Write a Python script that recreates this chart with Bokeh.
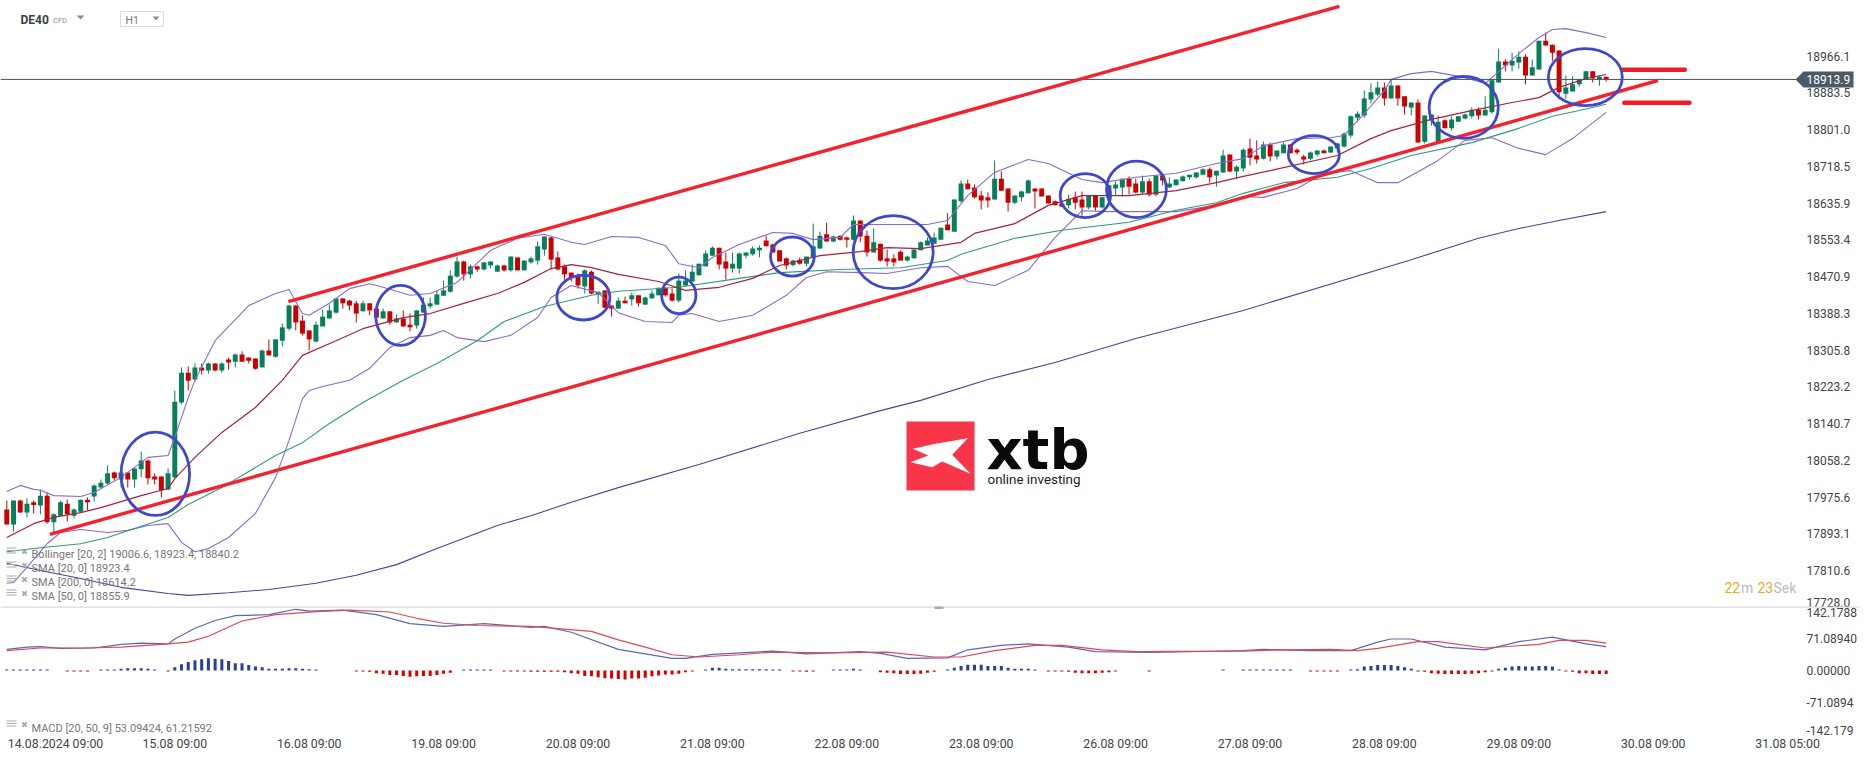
from bokeh.plotting import figure
from bokeh.models import Range1d, FixedTicker, Label, PolyAnnotation, ColumnDataSource
from bokeh.embed import file_html
from bokeh.resources import INLINE

# ---------- candles ----------
body_top = [
 17948,17968,17968,17961,17964,17979,17979,17937,17964,17961,
 17948,17970,17970,18002,18008,18029,18031,18031,18031,18040,
 18058,18058,18022,18022,18029,18190,18255,18255,18267,18267,
 18276,18276,18276,18285,18296,18296,18289,18287,18305,18305,
 18330,18357,18406,18406,18372,18350,18363,18381,18395,18422,
 18422,18417,18411,18411,18411,18399,18393,18393,18377,18377,
 18363,18395,18408,18411,18431,18440,18473,18505,18505,18494,
 18494,18503,18505,18496,18496,18516,18514,18507,18512,18539,
 18561,18559,18514,18494,18480,18473,18485,18482,18437,18440,
 18406,18417,18417,18429,18429,18424,18433,18446,18446,18433,
 18462,18462,18482,18500,18523,18536,18536,18505,18500,18523,
 18525,18534,18536,18552,18543,18530,18512,18507,18509,18516,
 18539,18563,18566,18561,18563,18559,18597,18597,18563,18548,
 18545,18512,18512,18527,18516,18532,18548,18552,18559,18581,
 18588,18644,18680,18680,18671,18653,18649,18691,18691,18669,
 18653,18662,18687,18669,18669,18653,18640,18635,18646,18649,
 18644,18653,18653,18649,18676,18678,18691,18691,18680,18685,
 18685,18698,18698,18680,18689,18696,18700,18705,18712,18712,
 18709,18743,18745,18718,18756,18759,18743,18768,18768,18754,
 18768,18768,18756,18741,18750,18754,18754,18763,18770,18792,
 18831,18837,18871,18885,18896,18896,18900,18900,18876,18862,
 18862,18833,18835,18819,18822,18824,18831,18835,18846,18846,
 18846,18912,18954,18954,18956,18965,18965,18941,19001,19001,
 18992,18979,18896,18903,18914,18932,18932,18920,18920]
body_bottom = [
 17914,17914,17941,17941,17958,17957,17919,17919,17934,17937,
 17934,17943,17964,17977,17997,18006,18018,18015,18015,18015,
 18038,18018,18015,17991,17993,18020,18188,18237,18240,18260,
 18260,18260,18260,18278,18280,18280,18282,18264,18267,18294,
 18291,18327,18354,18368,18343,18330,18325,18359,18377,18390,
 18411,18406,18388,18393,18395,18379,18377,18368,18368,18359,
 18357,18361,18390,18404,18408,18428,18437,18471,18476,18476,
 18487,18487,18496,18482,18485,18485,18485,18485,18503,18507,
 18532,18509,18487,18476,18469,18451,18449,18433,18431,18401,
 18399,18399,18411,18420,18411,18408,18422,18429,18429,18417,
 18417,18451,18460,18474,18494,18518,18498,18489,18489,18489,
 18518,18521,18530,18539,18525,18505,18496,18497,18500,18500,
 18514,18534,18550,18550,18554,18554,18554,18561,18525,18525,
 18507,18505,18503,18507,18507,18512,18530,18541,18545,18554,
 18575,18572,18640,18667,18649,18642,18642,18644,18664,18637,
 18637,18649,18658,18662,18651,18635,18631,18628,18631,18637,
 18626,18626,18626,18626,18649,18669,18671,18673,18660,18660,
 18655,18655,18687,18671,18676,18685,18694,18694,18700,18694,
 18698,18705,18707,18707,18714,18738,18734,18736,18741,18741,
 18748,18748,18750,18734,18736,18745,18748,18750,18759,18763,
 18788,18828,18833,18869,18880,18871,18871,18871,18853,18851,
 18772,18774,18822,18772,18804,18804,18819,18826,18831,18833,
 18833,18840,18907,18945,18945,18952,18923,18923,18936,18990,
 18974,18885,18882,18887,18903,18914,18916,18914,18915]
wick_high = [
 17968,17968,17970,17973,17968,17993,17986,17939,17968,17970,
 17950,17970,17975,18004,18015,18047,18033,18035,18031,18042,
 18078,18060,18029,18022,18040,18215,18267,18269,18276,18276,
 18278,18276,18278,18289,18298,18303,18289,18287,18307,18330,
 18330,18366,18408,18406,18384,18350,18370,18397,18408,18422,
 18422,18419,18417,18417,18411,18399,18399,18393,18386,18395,
 18388,18395,18424,18424,18440,18462,18485,18516,18507,18498,
 18496,18503,18505,18498,18498,18516,18514,18507,18516,18550,
 18561,18561,18527,18498,18480,18478,18487,18485,18437,18440,
 18406,18424,18426,18435,18429,18426,18440,18446,18446,18444,
 18478,18485,18498,18500,18530,18539,18536,18525,18525,18525,
 18525,18539,18541,18563,18545,18530,18514,18509,18514,18516,
 18590,18572,18592,18563,18563,18561,18608,18597,18574,18579,
 18545,18532,18521,18530,18518,18532,18550,18559,18570,18581,
 18613,18644,18687,18689,18678,18664,18660,18732,18707,18669,
 18653,18664,18689,18669,18669,18653,18642,18637,18655,18662,
 18662,18653,18655,18649,18676,18685,18691,18696,18691,18698,
 18691,18698,18702,18694,18689,18698,18700,18705,18714,18716,
 18709,18756,18745,18721,18759,18781,18777,18774,18772,18754,
 18772,18768,18759,18745,18752,18754,18756,18763,18772,18795,
 18833,18842,18889,18905,18909,18907,18914,18900,18876,18862,
 18869,18833,18835,18833,18824,18831,18831,18837,18851,18851,
 18876,18914,18983,18959,18974,18977,18970,18959,19001,19019,
 18992,18979,18923,18921,18914,18932,18932,18923,18920]
wick_low = [
 17914,17898,17941,17930,17939,17937,17916,17896,17934,17921,
 17928,17941,17946,17966,17995,18004,18013,17997,17997,17997,
 18020,18004,18004,17975,17991,18017,18184,18215,18235,18251,
 18253,18258,18255,18262,18267,18280,18276,18262,18267,18294,
 18289,18314,18350,18350,18339,18305,18323,18359,18377,18388,
 18399,18395,18368,18393,18384,18379,18377,18363,18368,18359,
 18348,18354,18390,18399,18408,18428,18435,18469,18462,18467,
 18482,18485,18489,18482,18482,18482,18485,18485,18500,18498,
 18518,18487,18485,18464,18460,18444,18433,18431,18410,18401,
 18381,18399,18411,18406,18404,18408,18422,18429,18426,18415,
 18413,18451,18460,18473,18494,18518,18487,18464,18480,18478,
 18512,18518,18514,18539,18525,18505,18487,18494,18498,18494,
 18514,18534,18550,18548,18552,18536,18552,18548,18516,18525,
 18505,18494,18494,18507,18505,18512,18530,18541,18545,18554,
 18575,18572,18637,18667,18646,18622,18626,18644,18664,18617,
 18634,18640,18658,18624,18651,18635,18631,18628,18624,18622,
 18608,18622,18619,18624,18649,18653,18651,18655,18658,18655,
 18651,18651,18676,18671,18676,18685,18689,18691,18700,18682,
 18673,18705,18705,18691,18707,18721,18725,18734,18730,18734,
 18748,18748,18745,18723,18732,18741,18748,18748,18750,18761,
 18783,18819,18828,18860,18876,18855,18871,18855,18835,18833,
 18772,18770,18810,18772,18804,18799,18819,18824,18826,18824,
 18833,18837,18907,18932,18932,18938,18903,18923,18936,18990,
 18956,18869,18871,18887,18898,18914,18907,18900,18909]
direction = ("RGRGRGRGGR" "GGRGGGRGRG" "GRRRGGGRGR" "GRGRGRRRGR" "GGGRRRGGGG" "RRRGRRGRGR"
             "RGGGGGGGRG" "RGGGRGRGGG" "GRRRRRGRGR" "RGRGRGGGRR" "GGGGGGRRGG" "GGGRRRRGRG"
             "GGRGRRGRRG" "RRRRGGGGGG" "RGGRRRRGRR" "GGGRRRRRGR" "RGRGGGGRRG" "RGRGGGGGGR"
             "GGRGGRRGRG" "GRRRGGRGGG" "GGGGGRGRRG" "RGGGRGGGGR" "GGGRGGRGGR" "RRGGGGRGR")

# ---------- indicators: (bar index, value) read at the line's bends ----------
sma20_i = [0,4,7,11,14,20,24,25,28,32,37,41,44,49,53,59,63,68,73,77,81,84,87,91,97,101,106,111,115,121,127,131,136,142,144,150,155,160,167,174,180,184,188,198,203,206,212,218,224,228,231,235,238]
sma20_v = [17885,17916,17930,17941,17952,17979,17995,18017,18065,18121,18177,18238,18294,18327,18354,18379,18388,18411,18433,18458,18489,18498,18491,18476,18460,18440,18447,18467,18496,18518,18527,18536,18534,18548,18568,18590,18631,18653,18653,18664,18682,18696,18709,18743,18781,18799,18824,18844,18862,18873,18896,18916,18925]
sma50_i = [0,5,11,15,20,24,27,32,36,40,44,48,53,59,64,70,74,80,87,91,100,109,115,124,133,140,142,150,157,167,174,180,184,190,198,203,209,218,225,230,234,238]
sma50_v = [17853,17862,17871,17885,17910,17930,17959,17997,18033,18069,18098,18141,18188,18238,18276,18327,18370,18404,18429,18438,18447,18467,18480,18487,18491,18507,18521,18557,18575,18593,18620,18637,18658,18682,18694,18714,18743,18772,18804,18831,18844,18858]
sma200_i = [0,5,11,17,24,27,33,39,46,52,58,64,73,78,84,91,103,118,130,136,146,156,168,184,209,219,225,231,238]
sma200_v = [17827,17811,17793,17773,17759,17755,17761,17768,17782,17800,17824,17860,17912,17934,17964,17997,18049,18119,18170,18193,18240,18278,18332,18395,18509,18557,18579,18597,18617]
bb_up_i = [0,2,4,5,7,11,13,17,21,24,25,27,28,31,36,40,42,44,45,48,51,54,56,60,63,67,72,76,80,84,86,90,94,98,100,103,105,109,114,117,120,124,126,137,140,143,147,152,155,160,163,168,174,180,184,187,192,197,199,202,205,206,209,212,217,220,223,225,228,230,232,235,238]
bb_up_v = [17988,18002,17993,17991,17979,17977,17986,18020,18065,18069,18110,18199,18238,18327,18406,18433,18442,18388,18384,18411,18444,18455,18447,18429,18433,18458,18530,18557,18566,18548,18543,18561,18559,18541,18500,18491,18514,18543,18570,18568,18554,18559,18588,18588,18597,18653,18705,18734,18725,18689,18682,18694,18703,18725,18736,18765,18781,18783,18788,18837,18889,18914,18927,18932,18918,18905,18945,18972,19008,19026,19028,19019,19008]
bb_lo_i = [0,1,3,6,8,11,15,18,21,24,26,28,30,33,37,40,42,44,45,47,51,54,57,60,63,65,67,71,75,79,81,84,88,91,95,99,100,102,106,111,116,119,122,127,131,136,140,143,147,152,156,160,164,174,180,184,187,192,196,200,204,207,209,213,217,221,225,229,233,238]
bb_lo_v = [17782,17784,17818,17871,17896,17903,17896,17901,17912,17916,17874,17853,17860,17885,17939,18020,18103,18197,18215,18224,18238,18265,18312,18334,18339,18350,18334,18325,18339,18379,18424,18451,18435,18390,18370,18368,18384,18388,18370,18384,18429,18469,18482,18480,18478,18491,18494,18460,18451,18485,18559,18619,18617,18617,18631,18651,18649,18669,18703,18709,18682,18682,18698,18732,18777,18783,18759,18745,18781,18840]

macd_i = [0,3,5,8,13,17,20,24,25,28,31,34,39,43,45,50,55,60,65,71,78,80,84,91,99,101,105,114,119,127,130,134,140,143,148,152,158,162,170,184,187,194,200,204,206,209,214,220,225,230,235,238]
macd_v = [47,52,53,49,50,58,61,59,70,94,111,122,124,136,132,134,124,104,98,104,96,98,85,47,27,27,36,43,37,42,38,27,28,46,56,59,52,42,40,44,47,44,44,63,70,70,52,46,64,74,59,53]
signal_i = [0,5,11,17,24,27,30,35,40,46,51,57,61,65,70,78,87,91,95,99,103,109,114,122,131,138,142,147,153,157,163,168,184,190,197,201,204,210,213,220,228,231,235,238]
signal_v = [44,50,50,52,59,63,76,110,124,131,134,130,116,105,100,98,87,68,52,35,30,35,41,39,41,30,30,44,56,56,46,42,43,46,47,44,49,64,64,50,58,67,67,61]
histogram = [
 2,2,2,2,2,2,2,0,0,-2, -2,-2,-2,0,2,2,2,4,5,5, 5,4,2,0,-2,7,14,19,23,25,
 27,26,25,21,16,16,12,9,7,4, 4,4,5,5,4,2.5,2,0,0,0, 0,0,-2,-2,-3,-6,-7,-10,-10,-12,
 -14,-13,-12,-12,-10,-7,-5,0,2,2, 2,2,2,0,-2,-2,-2,-2,-3,-3, -3,-3,-3,-4,-6,-7,-12,-13,-15,-17,
 -18,-19,-20,-18,-18,-16,-13,-11,-9,-9, -7,-4,-2,0,2,6,6,4,3,3, 3,3,3,3,2,2,0,-2,-2,-3,
 -2,0,0,2,2,2,4,2,0,0, -4,-5,-6,-8,-8,-8,-7,-5,-3,0, 2,6,10,13,13,13,10,10,10,6,
 4,4,4,2,0,-2,-2,-2,-3,-5, -6,-6,-6,-5,-4,-2,0,0,0,0, -2,0,0,0,0,0,0,0,0,0,
 0,2,0,0,2,2,2,2,2,2, 2,2,0,0,-2,-2,-2,-2,-2,0, 2,3,9,10,12,12,12,10,7,4,
 -2,-3,-6,-7,-8,-8,-8,-8,-7,-6, -4,-2,4,6,9,10,9,9,10,10, 9,2,-2,-3,-6,-6,-8,-8,-8]

# ---------- analyst drawings ----------
channel_i = [[41.9, 198.3], [6.4, 245.7]]
channel_v = [[18415, 19078], [17892, 18911.5]]
level_i = [[240.4, 249.7], [240.7, 250.4]]
level_v = [[18935.5, 18935.5], [18861.4, 18861.4]]
circle_i = [22.1, 58.6, 85.8, 100, 116.9, 131.9, 160.5, 168.1, 194.5, 216.8, 234.9]
circle_v = [18028, 18384, 18424, 18429, 18516, 18526, 18653, 18667, 18745, 18851, 18919]
circle_w = [10.2, 7.4, 7.9, 5.1, 6.5, 11.9, 7.5, 8.9, 7.6, 10.3, 11]
circle_h = [187, 135, 101, 82, 88, 164, 99, 127, 85, 139, 128]

# ---------- texts ----------
price_ticks = [18966.1,18883.5,18801.0,18718.5,18635.9,18553.4,18470.9,18388.3,18305.8,18223.2,18140.7,18058.2,17975.6,17893.1,17810.6,17738.5]
price_tick_labels = ["18966.1","18883.5","18801.0","18718.5","18635.9","18553.4","18470.9","18388.3","18305.8","18223.2","18140.7","18058.2","17975.6","17893.1","17810.6","17728.0"]
macd_ticks = [128, 71.0894, 0, -71.0894, -134]
macd_tick_labels = ["142.1788","71.08940","0.00000","-71.0894","-142.179"]
date_ticks = [7.25,25,45,65,85,105,125,145,165,185,205,225,245,265]
date_labels = ["14.08.2024 09:00","15.08 09:00","16.08 09:00","19.08 09:00","20.08 09:00","21.08 09:00","22.08 09:00","23.08 09:00","26.08 09:00","27.08 09:00","28.08 09:00","29.08 09:00","30.08 09:00","31.08 05:00"]
last_price = 18913.9
legend_lines = ["Bollinger [20, 2] 19006.6, 18923.4, 18840.2","SMA [20, 0] 18923.4","SMA [200, 0] 18614.2","SMA [50, 0] 18855.9"]
macd_legend = "MACD [20, 50, 9] 53.09424, 61.21592"

UP, DOWN = "#087f5b", "#cc0000"
PURPLE, MAROON, TEAL, NAVY = "#8a6bcc", "#a8213f", "#2f9c7c", "#3c4a9e"
FONT = "Roboto"

# page position -> data, for the furniture only
def ix(px): return (px - 6.3) / 6.72
def py(y): return 19091.2 - 2.2463 * y
def my(y): return (670 - y) / 0.4501
def macd_as_price(v): return round(py(670 - 0.4501 * v), 2)

FRAME_RIGHT, FRAME_BOTTOM = 1860, 735
p = figure(output_backend="svg", toolbar_location=None, frame_width=FRAME_RIGHT, frame_height=FRAME_BOTTOM,
           x_range=Range1d(ix(0), ix(FRAME_RIGHT)), y_range=Range1d(py(FRAME_BOTTOM), py(0)), y_axis_location="right",
           min_border_left=0, min_border_top=0, min_border_bottom=24, min_border_right=0)
p.extra_y_ranges = {"macd": Range1d(my(FRAME_BOTTOM), my(0))}
p.grid.visible = False
p.outline_line_color = None

# one axis labels both panels, placed inside the frame so the tag and separator can reach past it
ax = p.yaxis[0]
all_ticks = price_ticks + [macd_as_price(v) for v in macd_ticks]
ax.ticker = FixedTicker(ticks=all_ticks)
ax.major_label_overrides = dict(zip(all_ticks, price_tick_labels + macd_tick_labels))
ax.axis_line_color = None
ax.major_tick_line_color = None
ax.minor_tick_line_color = None
ax.major_tick_in = 0
ax.major_tick_out = 0
ax.fixed_location = ix(1854)
ax.major_label_standoff = -48
ax.major_label_text_font = FONT
ax.major_label_text_font_size = "12px"
ax.major_label_text_color = "#444444"

axx = p.xaxis[0]
axx.ticker = FixedTicker(ticks=date_ticks)
axx.major_label_overrides = dict(zip(date_ticks, date_labels))
axx.axis_line_color = None
axx.major_tick_line_color = None
axx.minor_tick_line_color = None
axx.major_tick_in = 0
axx.major_tick_out = 0
axx.minor_tick_in = 0
axx.minor_tick_out = 0
axx.major_label_standoff = 1
axx.major_label_text_font = FONT
axx.major_label_text_font_size = "12.3px"
axx.major_label_text_color = "#444444"

idx = list(range(len(body_top)))
colors = [UP if d == "G" else DOWN for d in direction]
src = ColumnDataSource(dict(i=idx, top=body_top, bottom=body_bottom, high=wick_high, low=wick_low, color=colors))
p.segment("i", "high", "i", "low", source=src, color="color", line_width=1)
p.vbar("i", 0.74, "top", "bottom", source=src, fill_color="color", line_color=None)

p.line(bb_up_i, bb_up_v, color=PURPLE, line_width=1.1)
p.line(bb_lo_i, bb_lo_v, color=PURPLE, line_width=1.1)
p.line(sma50_i, sma50_v, color=TEAL, line_width=1.1)
p.line(sma200_i, sma200_v, color=NAVY, line_width=1.1)
p.line(sma20_i, sma20_v, color=MAROON, line_width=1.2)
p.line([ix(0), ix(1796)], [last_price, last_price], color="#43535f", line_width=1)

for xs, ys in zip(channel_i, channel_v):
    p.line(xs, ys, color="#f5222d", line_width=3.4)
for xs, ys in zip(level_i, level_v):
    p.line(xs, ys, color="#ee1c25", line_width=4.5, line_cap="round")
p.ellipse(circle_i, circle_v, width=circle_w, height=circle_h, fill_color=None, line_color="#3f48cc", line_width=2.8)

# MACD on its own scale
hist_colors = ["#2f3e9e" if v > 0 else "#d60000" for v in histogram]
p.vbar(idx, 0.45, [max(v, 0) for v in histogram], [min(v, 0) for v in histogram],
       fill_color=hist_colors, line_color=None, y_range_name="macd")
p.line(macd_i, macd_v, color="#5a68bb", line_width=1.2, y_range_name="macd")
p.line(signal_i, signal_v, color="#e4474f", line_width=1.2, y_range_name="macd")

def poly(xs, ys, fill, line=None):
    p.add_layout(PolyAnnotation(xs=[ix(x) for x in xs], ys=[py(y) for y in ys], fill_color=fill,
                                fill_alpha=1 if fill else 0, line_color=line, line_width=1, line_alpha=1 if line else 0))

def text(s, x, y, size, color, font=FONT, style="normal"):
    p.add_layout(Label(x=ix(x), y=py(y), text=s, text_font=font, text_font_size=size, text_color=color,
                       text_font_style=style, text_baseline="middle", text_align="left"))

# panel separator
poly([0, FRAME_RIGHT, FRAME_RIGHT, 0], [606, 606, 607.2, 607.2], "#dcdcdc")
poly([934, 943, 943, 934], [606, 606, 608.5, 608.5], "#aaaaaa")

# header
text("DE40", 20, 19.5, "12px", "#37424a", style="bold")
text("CFD", 52.5, 20, "7.5px", "#8a8f94")
poly([76, 84, 80], [15, 15, 19], "#8a8f94")
poly([120, 163, 163, 120], [11, 11, 26, 26], "#ffffff", "#dddddd")
text("H1", 125, 20, "10.5px", "#777777")
poly([152, 159, 155.5], [16, 16, 20], "#8a8f94")

# price tag
poly([1795, 1803, 1853, 1853, 1803], [79, 71, 71, 87, 87], "#4a5a66")
text("18913.9", 1806, 79, "12px", "#ffffff")

# legends
for s, y in zip(legend_lines, [554, 568, 582, 596]):
    text(s, 31, y, "11px", "#777777")
    for dy in (-5, -2.5, 0):
        poly([6, 16, 16, 6], [y + dy - 2, y + dy - 2, y + dy - 1, y + dy - 1], "#aaaaaa")
    p.scatter([ix(24)], [py(y - 3)], marker="x", size=6, line_color="#aaaaaa", line_width=2)
text(macd_legend, 31, 727.7, "11px", "#777777")
for dy in (-5, -2.5, 0):
    poly([6, 16, 16, 6], [727 + dy - 2, 727 + dy - 2, 727 + dy - 1, 727 + dy - 1], "#aaaaaa")
p.scatter([ix(24)], [py(724)], marker="x", size=6, line_color="#aaaaaa", line_width=2)

# timer
text("22", 1724, 587, "14px", "#f5a623")
text("m", 1740.5, 587, "14px", "#b8bcc0")
text("23", 1757, 587, "14px", "#f5a623")
text("Sek", 1773, 587, "14px", "#b8bcc0")

# logo
poly([906, 974, 974, 906], [421, 421, 490, 490], "#f93549")
poly([912.3, 935, 967.3, 951.7, 970, 941.7, 931.7, 910, 927.7],
     [448.3, 443.3, 437.7, 454.3, 473.3, 461, 466.7, 461.7, 455], "#ffffff")
text("xtb", 986, 449, "56px", "#0a0a0a", font="DejaVu Sans", style="bold")
text("online investing", 987, 479, "13.4px", "#222222")

open("out.html", "w").write(file_html(p, INLINE))
